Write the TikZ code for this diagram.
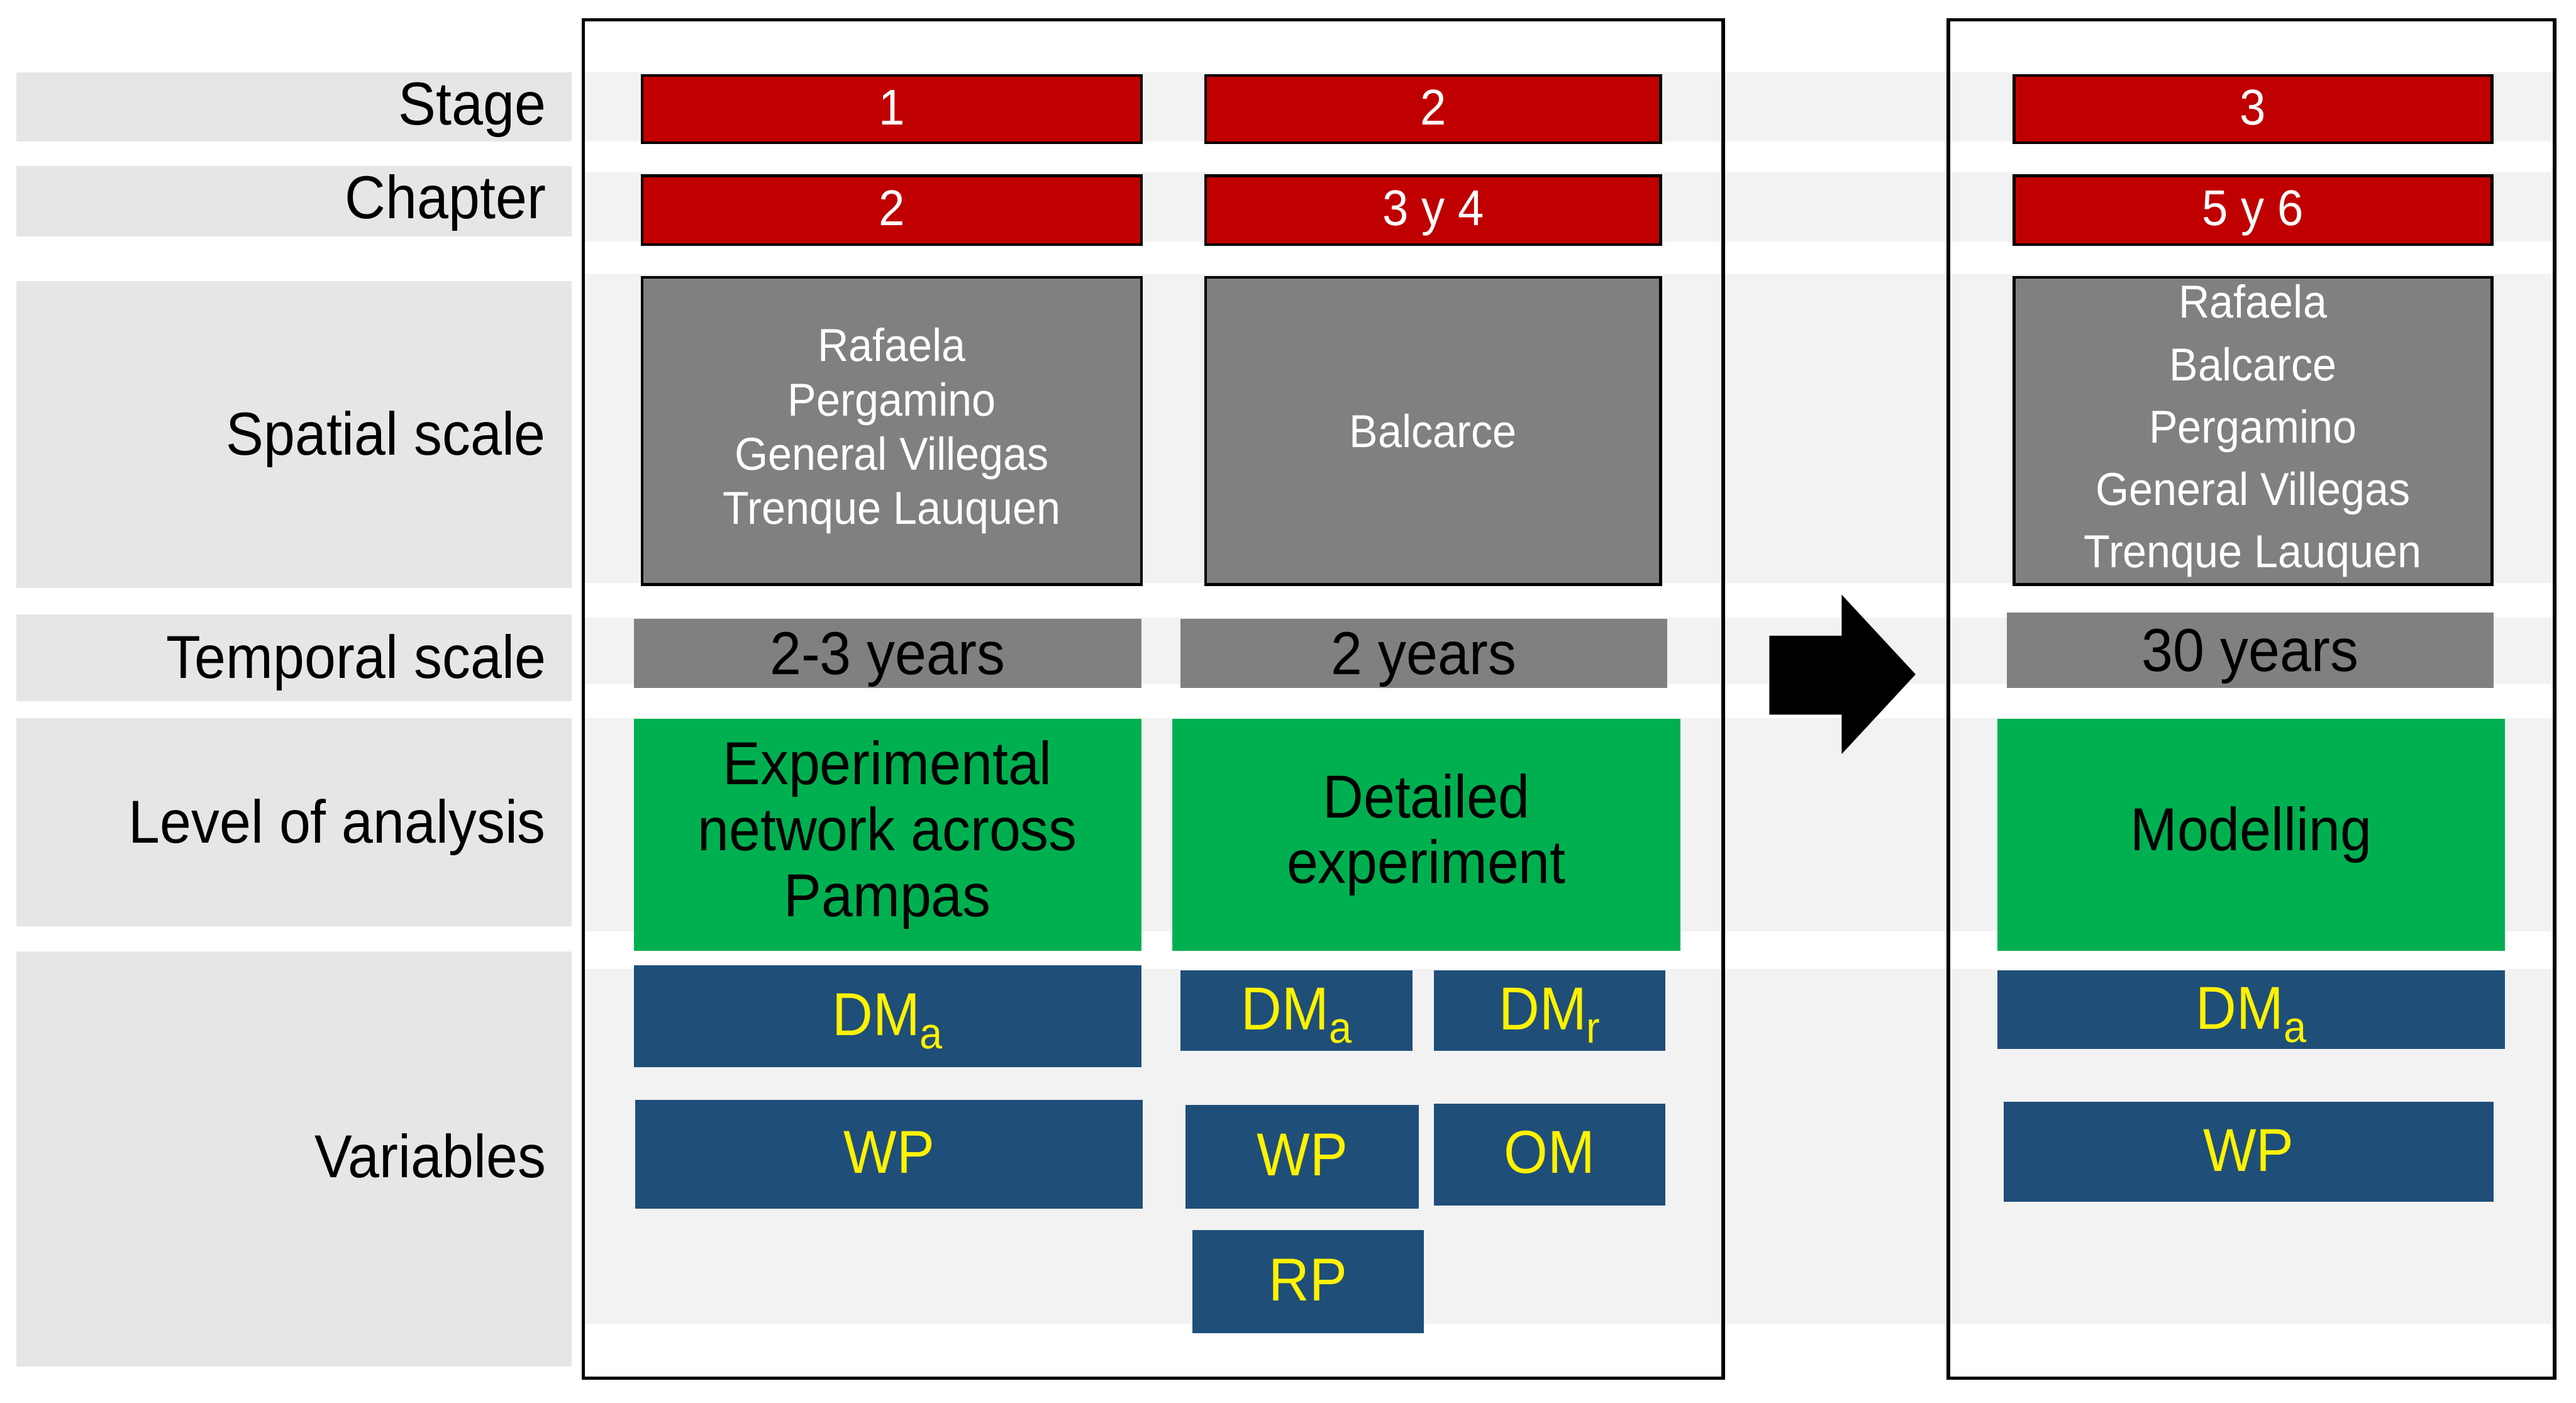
\documentclass[tikz,border=0pt]{standalone}
\usepackage{fontspec}
\setmainfont{Liberation Sans}[FakeStretch=0.93]
\usepackage{xcolor}
\usepackage{tikz}

\definecolor{stagered}{HTML}{C00000}
\definecolor{placegray}{HTML}{808080}
\definecolor{levelgreen}{HTML}{00B050}
\definecolor{varblue}{HTML}{1F4E79}
\definecolor{rowdark}{HTML}{E7E6E6}
\definecolor{rowlight}{HTML}{F2F2F2}

% box from top-left (x1,y1) to bottom-right (x2,y2)
\newcommand{\putcell}[7]{%
  \node[#2, minimum width={(#5-#3)*0.01cm}, minimum height={(#6-#4)*0.01cm}] (#1) at (#3,#4) {#7};}
\newcommand{\lowsub}[1]{\raisebox{-2.3pt}{\fontsize{7.6}{8}\selectfont #1}}

\tikzset{
  cellbase/.style={rectangle, inner sep=0pt, anchor=north west, align=center},
  oneline/.style={text height=#1, text depth=0pt},
  redcell/.style={cellbase, oneline=5.4pt, fill=stagered, draw=black, line width=0.5pt, text=white,
    font=\fontsize{8.7}{10}\selectfont},
  placecell/.style={cellbase, fill=placegray, draw=black, line width=0.5pt, text=white,
    font=\fontsize{8}{9.4}\selectfont},
  timecell/.style={cellbase, oneline=7.4pt, fill=placegray, font=\fontsize{10.5}{12}\selectfont},
  levelcell/.style={cellbase, fill=levelgreen, font=\fontsize{10.5}{11.4}\selectfont},
  varcell/.style={cellbase, oneline=6.6pt, fill=varblue, text=yellow, font=\fontsize{10.5}{12}\selectfont},
  rowlabel/.style={anchor=base east, inner sep=0pt, font=\fontsize{10.5}{12}\selectfont},
  frame/.style={draw=black, line width=0.6pt}
}

\begin{document}
\begin{tikzpicture}[x=0.01cm,y=-0.01cm]
\useasboundingbox (0,0) rectangle (1568,854);

% row stripes
\fill[rowdark] (10,44) rectangle (348,86);
\fill[rowdark] (10,101) rectangle (348,144);
\fill[rowdark] (10,171) rectangle (348,358);
\fill[rowdark] (10,374) rectangle (348,427);
\fill[rowdark] (10,437) rectangle (348,564);
\fill[rowdark] (10,579) rectangle (348,832);
\fill[rowlight] (355,44) rectangle (1555,86);
\fill[rowlight] (355,105) rectangle (1555,147);
\fill[rowlight] (355,167) rectangle (1555,355);
\fill[rowlight] (355,376) rectangle (1555,416);
\fill[rowlight] (355,437) rectangle (1555,567);
\fill[rowlight] (355,590) rectangle (1555,806);

% frames
\draw[frame] (355,12) rectangle (1049,839);
\draw[frame] (1186,12) rectangle (1555,839);

% row labels
\node[rowlabel] (lstage) at (333,76) {Stage};
\node[rowlabel] (lchapter) at (333,133) {Chapter};
\node[rowlabel] (lspatial) at (333,277) {Spatial scale};
\node[rowlabel] (ltemporal) at (333,413) {Temporal scale};
\node[rowlabel] (llevel) at (333,513) {Level of analysis};
\node[rowlabel] (lvars) at (333,717) {Variables};

% stage 1
\putcell{stageA}{redcell}{390}{45}{694}{86}{1}
\putcell{chapA}{redcell}{390}{106}{694}{148}{2}
\putcell{placeA}{placecell}{390}{168}{694}{355}{Rafaela\\Pergamino\\General Villegas\\Trenque Lauquen}
\putcell{timeA}{timecell}{385}{376}{694}{418}{2-3 years}
\putcell{levelA}{levelcell}{385}{437}{694}{578}{Experimental\\network across\\Pampas}
\putcell{dmaA}{varcell}{385}{587}{694}{649}{DM\lowsub{a}}
\putcell{wpA}{varcell}{386}{669}{695}{735}{WP}

% stage 2
\putcell{stageB}{redcell}{733}{45}{1010}{86}{2}
\putcell{chapB}{redcell}{733}{106}{1010}{148}{3 y 4}
\putcell{placeB}{placecell}{733}{168}{1010}{355}{Balcarce}
\putcell{timeB}{timecell}{718}{376}{1014}{418}{2 years}
\putcell{levelB}{levelcell}{713}{437}{1022}{578}{Detailed\\experiment}
\putcell{dmaB}{varcell}{718}{590}{859}{639}{DM\lowsub{a}}
\putcell{dmrB}{varcell}{872}{590}{1013}{639}{DM\lowsub{r}}
\putcell{wpB}{varcell}{721}{672}{863}{735}{WP}
\putcell{omB}{varcell}{872}{671}{1013}{733}{OM}
\putcell{rpB}{varcell}{725}{748}{866}{811}{RP}

% arrow to stage 3
\fill[black] (1077,387) -- (1121,387) -- (1121,362) -- (1166,410.5) -- (1121,459)
  -- (1121,435) -- (1077,435) -- cycle;

% stage 3
\putcell{stageC}{redcell}{1225}{45}{1516}{86}{3}
\putcell{chapC}{redcell}{1225}{106}{1516}{148}{5 y 6}
\putcell{placeC}{placecell,font=\fontsize{8}{10.8}\selectfont}{1225}{168}{1516}{355}{Rafaela\\Balcarce\\Pergamino\\General Villegas\\Trenque Lauquen}
\putcell{timeC}{timecell}{1221}{372}{1517}{418}{30 years}
\putcell{levelC}{levelcell}{1215}{437}{1524}{578}{Modelling}
\putcell{dmaC}{varcell}{1215}{590}{1524}{638}{DM\lowsub{a}}
\putcell{wpC}{varcell}{1219}{670}{1517}{731}{WP}
\end{tikzpicture}
\end{document}
